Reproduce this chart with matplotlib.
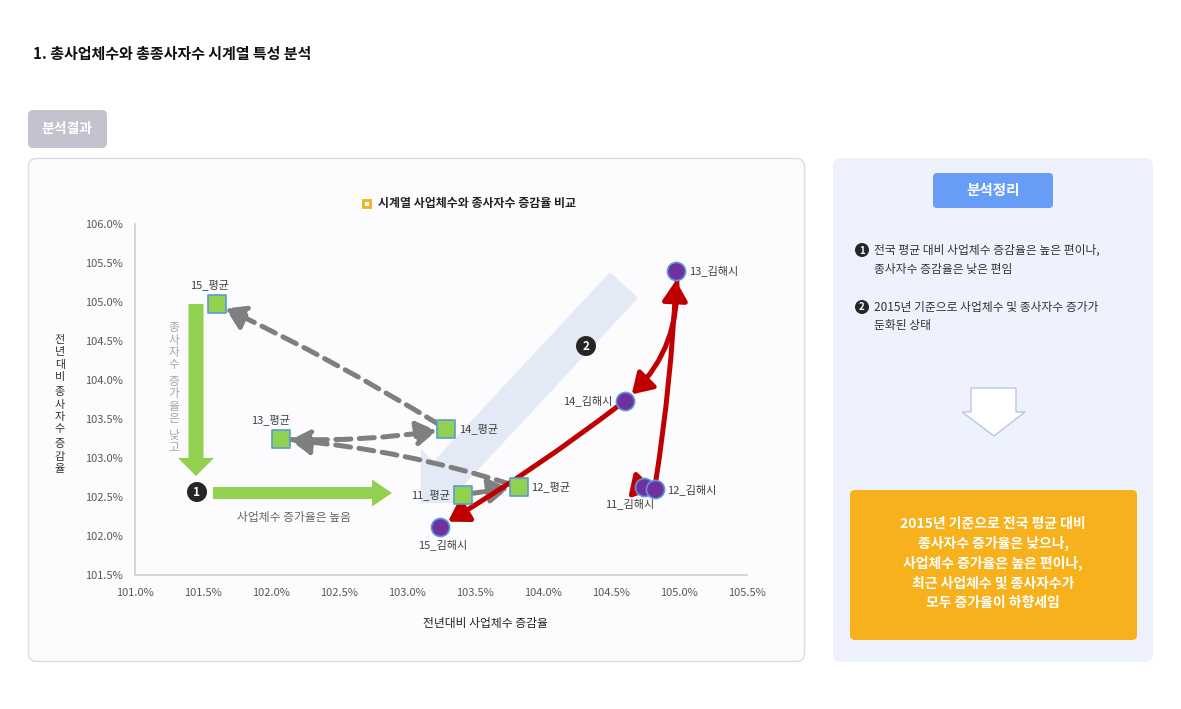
import matplotlib
matplotlib.use("Agg")
import matplotlib.pyplot as plt
import matplotlib.patches as mpatches
from matplotlib.patches import FancyBboxPatch, Polygon, Circle

plt.rcParams['font.family'] = ['Noto Sans CJK KR', 'DejaVu Sans']

# ---------------- data ----------------
avg_labels = ["11_평균", "12_평균", "13_평균", "14_평균", "15_평균"]
avg_biz = [103.41, 103.82, 102.07, 103.29, 101.60]     # 전년대비 사업체수 증감율
avg_emp = [102.53, 102.63, 103.24, 103.37, 104.97]     # 전년대비 종사자수 증감율

gh_labels = ["11_김해시", "12_김해시", "13_김해시", "14_김해시", "15_김해시"]
gh_biz = [104.74, 104.82, 104.98, 104.60, 103.24]
gh_emp = [102.63, 102.60, 105.40, 103.73, 102.12]

x_ticks = [101.0, 101.5, 102.0, 102.5, 103.0, 103.5, 104.0, 104.5, 105.0, 105.5]
y_ticks = [101.5, 102.0, 102.5, 103.0, 103.5, 104.0, 104.5, 105.0, 105.5, 106.0]

title = "1. 총사업체수와 총종사자수 시계열 특성 분석"
legend_text = "시계열 사업체수와 종사자수 증감율 비교"
x_label = "전년대비 사업체수 증감율"
y_label = "전년대비 종사자수 증감율"
summary_items = [["전국 평균 대비 사업체수 증감율은 높은 편이나,", "종사자수 증감율은 낮은 편임"],
                 ["2015년 기준으로 사업체수 및 종사자수 증가가", "둔화된 상태"]]
conclusion = ["2015년 기준으로 전국 평균 대비", "종사자수 증가율은 낮으나,",
              "사업체수 증가율은 높은 편이나,", "최근 사업체수 및 종사자수가",
              "모두 증가율이 하향세임"]

W, H = 1181, 709
fig = plt.figure(figsize=(W / 100, H / 100), dpi=100)
fig.patch.set_facecolor("white")

# overlay axes in pixel coordinates (decoration)
ov = fig.add_axes([0, 0, 1, 1], zorder=0)
ov.set_xlim(0, W)
ov.set_ylim(H, 0)
ov.axis("off")

ov.text(33, 54, title, fontsize=10.8, fontweight="bold", color="#111111", va="center", ha="left")

# 분석결과 button
ov.add_patch(FancyBboxPatch((28, 110), 79, 38, boxstyle="round,pad=0,rounding_size=5",
                            fc="#c3c3d0", ec="none"))
ov.text(67.5, 129, "분석결과", fontsize=10, fontweight="bold", color="white", ha="center", va="center")

# chart panel
ov.add_patch(FancyBboxPatch((28.5, 158.5), 776, 503, boxstyle="round,pad=0,rounding_size=8",
                            fc="#fcfcfe", ec="#dcdcdf", lw=1))
# summary panel
ov.add_patch(FancyBboxPatch((833, 158), 320, 504, boxstyle="round,pad=0,rounding_size=8",
                            fc="#edf2fd", ec="none"))
ov.add_patch(FancyBboxPatch((933, 173), 120, 35, boxstyle="round,pad=0,rounding_size=4",
                            fc="#679cf7", ec="none"))
ov.text(993, 190.5, "분석정리", fontsize=10.5, fontweight="bold", color="white", ha="center", va="center")

for i, (lines, yy) in enumerate(zip(summary_items, [250, 307])):
    ov.add_patch(Circle((862, yy), 7, fc="#262626", ec="none"))
    ov.text(862, yy + 0.5, str(i + 1), fontsize=7, fontweight="bold", color="white", ha="center", va="center")
    for j, ln in enumerate(lines):
        ov.text(874, yy + j * 19, ln, fontsize=8.5, color="#333333", ha="left", va="center")

# down arrow in summary panel
ov.add_patch(Polygon([(971, 388), (1016, 388), (1016, 412), (1025, 412), (994, 436),
                      (962, 412), (971, 412)], closed=True, fc="white", ec="#b7c7e6", lw=1))

# conclusion box
ov.add_patch(FancyBboxPatch((850, 490), 287, 150, boxstyle="round,pad=0,rounding_size=5",
                            fc="#f6b11c", ec="none"))
for j, ln in enumerate(conclusion):
    ov.text(993, 524 + j * 19.7, ln, fontsize=10, fontweight="bold", color="white", ha="center", va="center")

# legend
ov.add_patch(mpatches.Rectangle((362.5, 199.5), 7, 7, fc="white", ec="#f5b01c", lw=2))
ov.text(378, 203, legend_text, fontsize=8.6, fontweight="bold", color="#222222", ha="left", va="center")

# axis labels
ov.text(485, 623, x_label, fontsize=8.5, color="#222222", ha="center", va="center", fontweight="medium")


def stack(x, y0, s, step, extra, **kw):
    y = y0
    for ch in s:
        if ch == " ":
            y += extra
            continue
        ov.text(x, y, ch, ha="center", va="center", **kw)
        y += step


stack(60, 340, y_label, 12.3, 3, fontsize=8, color="#333333")
stack(174, 328, "종사자수 증가율은 낮고", 12.2, 5, fontsize=8.5, color="#a6a6a6")

# green arrows
ov.add_patch(mpatches.FancyArrow(196, 304, 0, 172, width=15, head_width=36, head_length=18,
                                 length_includes_head=True, fc="#92d050", ec="none"))
ov.add_patch(mpatches.FancyArrow(213, 493, 179, 0, width=12, head_width=27, head_length=20,
                                 length_includes_head=True, fc="#92d050", ec="none"))
ov.text(294, 518, "사업체수 증가율은 높음", fontsize=8.5, color="#666666", style="italic",
        ha="center", va="center")

# ---------------- chart axes ----------------
ax = fig.add_axes([135 / W, (H - 575) / H, (747 - 135) / W, (575 - 224) / H], zorder=1)
ax.set_facecolor("none")
ax.set_xlim(101.0, 105.5)
ax.set_ylim(101.5, 106.0)
ax.set_xticks(x_ticks)
ax.set_yticks(y_ticks)
ax.set_xticklabels([f"{v:.1f}%" for v in x_ticks])
ax.set_yticklabels([f"{v:.1f}%" for v in y_ticks])
ax.tick_params(length=0, labelsize=8, colors="#595959")
ax.tick_params(axis="y", pad=9)
ax.tick_params(axis="x", pad=9)
for s in ["top", "right"]:
    ax.spines[s].set_visible(False)
for s in ["left", "bottom"]:
    ax.spines[s].set_color("#cfcfcf")
    ax.spines[s].set_linewidth(1.2)

# big light-blue trend arrow (decoration)
big = Polygon([(610, 272), (433, 462), (421, 448), (421, 503), (475, 503), (462, 487), (638, 298)],
              closed=True, fc="#e1e8f5", ec="none", alpha=0.9, transform=ov.transData,
              zorder=0.5, clip_on=False)
ax.add_patch(big)

# badges (above the trend arrow)
for (bx, by, n) in [(197, 492, "1"), (586, 346, "2")]:
    ax.add_patch(Circle((bx, by), 10, fc="#262626", ec="none", zorder=5, transform=ov.transData,
                        clip_on=False))
    ax.text(bx, by + 0.5, n, fontsize=8.5, fontweight="bold", color="white", ha="center", va="center",
            zorder=6, transform=ov.transData, clip_on=False)

# gray dashed arrows (national average)
gray_rads = [0.0, 0.06, 0.05, 0.03]
for i in range(4):
    ax.annotate("", xy=(avg_biz[i + 1], avg_emp[i + 1]), xytext=(avg_biz[i], avg_emp[i]),
                arrowprops=dict(arrowstyle="-|>,head_length=0.8,head_width=0.5", mutation_scale=15,
                                color="#7f7f7f", lw=3.6, linestyle=(0, (3, 1.7)),
                                connectionstyle=f"arc3,rad={gray_rads[i]}", shrinkA=6, shrinkB=7),
                zorder=2)

# red arrows (김해시)
red_rads = [0.0, 0.03, -0.25, -0.03]
for i in range(4):
    ax.annotate("", xy=(gh_biz[i + 1], gh_emp[i + 1]), xytext=(gh_biz[i], gh_emp[i]),
                arrowprops=dict(arrowstyle="-|>,head_length=0.8,head_width=0.5", mutation_scale=15,
                                color="#c00000", lw=3.6,
                                connectionstyle=f"arc3,rad={red_rads[i]}", shrinkA=5, shrinkB=7),
                zorder=2)

ax.scatter(avg_biz, avg_emp, marker="s", s=150, c="#92d050", edgecolors="#5b9bd5", linewidths=1.2,
           zorder=3)
ax.scatter(gh_biz, gh_emp, marker="o", s=170, c="#7030a0", edgecolors="#5b9bd5", linewidths=1.2,
           zorder=3)

lab_kw = dict(fontsize=8, color="#404040", zorder=4)
# offsets in points: (dx, dy, ha, va)
avg_off = [(-9, 0, "right", "center"), (9, 0, "left", "center"), (-7, 14, "center", "center"),
           (9, 0, "left", "center"), (-5, 14, "center", "center")]
gh_off = [(-10, -12, "center", "center"), (9, 0, "left", "center"), (9, 0, "left", "center"),
          (-9, 0, "right", "center"), (2, -13, "center", "center")]
for lab, x, y, (dx, dy, ha, va) in zip(avg_labels, avg_biz, avg_emp, avg_off):
    ax.annotate(lab, (x, y), xytext=(dx, dy), textcoords="offset points", ha=ha, va=va, **lab_kw)
for lab, x, y, (dx, dy, ha, va) in zip(gh_labels, gh_biz, gh_emp, gh_off):
    ax.annotate(lab, (x, y), xytext=(dx, dy), textcoords="offset points", ha=ha, va=va, **lab_kw)

fig.savefig("out.png", dpi=100)
